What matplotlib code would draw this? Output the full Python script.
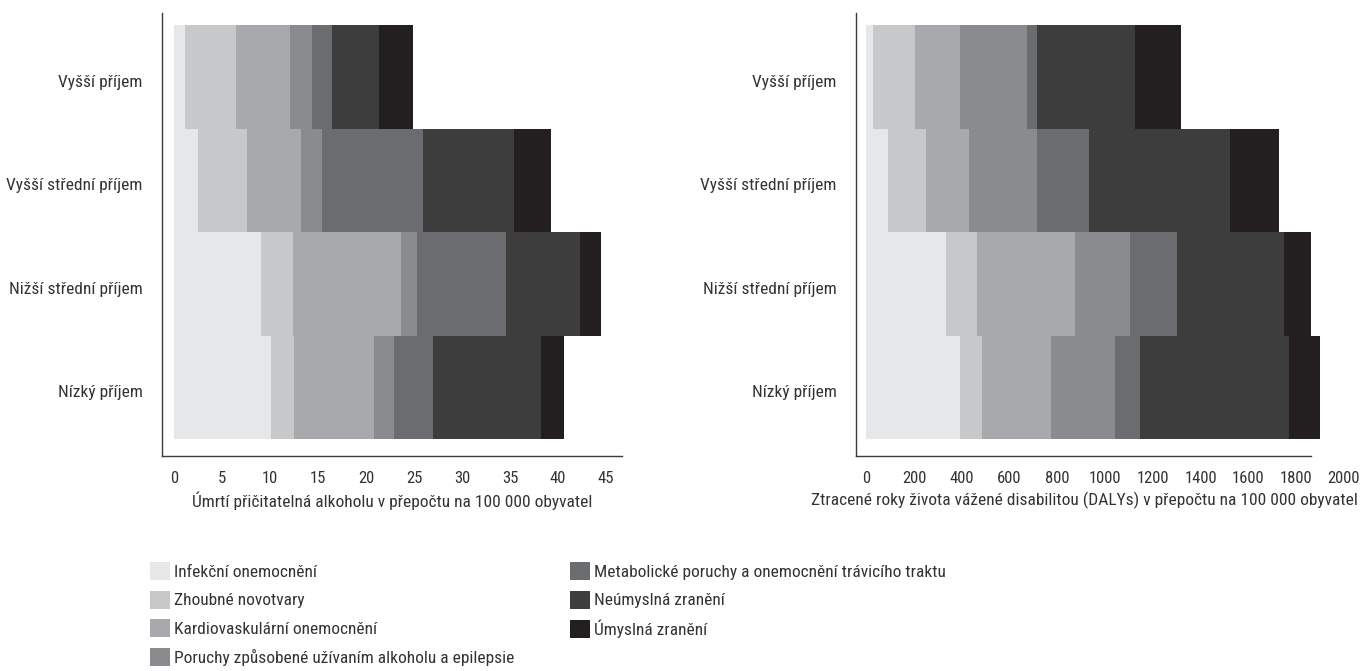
import matplotlib
matplotlib.use('Agg')
import matplotlib.pyplot as plt
from matplotlib.patches import Patch
from matplotlib import font_manager
from matplotlib.transforms import ScaledTranslation

# the reference uses a condensed sans, pick whatever narrow face is installed
installed = {f.name for f in font_manager.fontManager.ttflist}
font_pick = None
for cand in ['Roboto Condensed', 'Liberation Sans Narrow', 'Open Sans Condensed',
             'Noto Sans Condensed', 'DejaVu Sans Condensed', 'Arial Narrow']:
    if cand in installed:
        font_pick = cand
        break
if font_pick is None:
    # condensed faces registered under the regular family name
    for f in font_manager.fontManager.ttflist:
        if f.stretch in ('condensed', 'semi-condensed', 'extra-condensed') and f.style == 'normal' \
                and f.weight in (400, 'normal', 'regular'):
            font_pick = f.name
            plt.rcParams['font.stretch'] = f.stretch
            break
if font_pick is None:
    font_pick = 'Liberation Sans'
plt.rcParams['font.family'] = [font_pick, 'DejaVu Sans']

# categories, top to bottom
categories = ['Vyšší příjem', 'Vyšší střední příjem', 'Nižší střední příjem', 'Nízký příjem']

series_names = ['Infekční onemocnění', 'Zhoubné novotvary', 'Kardiovaskulární onemocnění',
                'Poruchy způsobené užívaním alkoholu a epilepsie',
                'Metabolické poruchy a onemocnění trávicího traktu',
                'Neúmyslná zranění', 'Úmyslná zranění']
colors = ['#e6e7e8', '#c7c8ca', '#a7a9ac', '#8a8b8e', '#6b6c70', '#3d3d3d', '#231f20']

# deaths per 100 000
deaths_infekcni = [1.15, 2.5, 9.05, 10.1]
deaths_zhoubne = [5.3, 5.1, 3.35, 2.4]
deaths_kardio = [5.6, 5.6, 11.25, 8.35]
deaths_poruchy = [2.3, 2.2, 1.65, 2.1]
deaths_metab = [2.1, 10.5, 9.3, 4.05]
deaths_neumyslna = [4.9, 9.5, 7.7, 11.25]
deaths_umyslna = [3.55, 3.85, 2.2, 2.4]

# DALYs per 100 000
dalys_infekcni = [29, 91, 334, 392]
dalys_zhoubne = [177, 161, 132, 91]
dalys_kardio = [186, 177, 408, 289]
dalys_poruchy = [280, 285, 231, 268]
dalys_metab = [45, 219, 194, 107]
dalys_neumyslna = [408, 590, 449, 623]
dalys_umyslna = [194, 206, 115, 128]

deaths = [deaths_infekcni, deaths_zhoubne, deaths_kardio, deaths_poruchy,
          deaths_metab, deaths_neumyslna, deaths_umyslna]
dalys = [dalys_infekcni, dalys_zhoubne, dalys_kardio, dalys_poruchy,
         dalys_metab, dalys_neumyslna, dalys_umyslna]

text_color = '#333333'
spine_color = '#3a3a3a'

fig = plt.figure(figsize=(13.61, 6.71), dpi=100)
ax1 = fig.add_axes([162 / 1361, 1 - 456 / 671, 460 / 1361, 443 / 671])
ax2 = fig.add_axes([856 / 1361, 1 - 456 / 671, 488 / 1361, 443 / 671])


def stacked(ax, data):
    ypos = list(range(len(categories)))
    left = [0] * len(categories)
    for vals, col in zip(data, colors):
        ax.barh(ypos, vals, left=left, height=1.0, color=col, linewidth=0)
        left = [a + b for a, b in zip(left, vals)]
    ax.set_yticks(ypos)
    ax.set_yticklabels(categories)
    ax.set_ylim(3.5 + 0.164, -0.5 - 0.116)
    for s in ['top', 'right']:
        ax.spines[s].set_visible(False)
    for s in ['left', 'bottom']:
        ax.spines[s].set_color(spine_color)
        ax.spines[s].set_linewidth(1.0)
    ax.tick_params(axis='both', length=0, colors=text_color)
    ax.tick_params(axis='y', pad=14, labelsize=12.5)
    ax.tick_params(axis='x', pad=11, labelsize=12)
    # category labels sit a little below the bar centres in the reference
    shift = ScaledTranslation(0, -3 / 72, fig.dpi_scale_trans)
    for lab in ax.get_yticklabels():
        lab.set_transform(lab.get_transform() + shift)


stacked(ax1, deaths)
ax1.set_xlim(-1.25, 46.67)
ax1.set_xticks(range(0, 50, 5))
ax1.set_xlabel('Úmrtí přičitatelná alkoholu v přepočtu na 100 000 obyvatel',
               fontsize=12.5, color=text_color, labelpad=4)

stacked(ax2, dalys)
ax2.set_xlim(-42.5, 2000)
ax2.spines['bottom'].set_bounds(-42.5, 1860)
ax2.set_xticks(range(0, 2200, 200))
ax2.set_xlabel('Ztracené roky života vážené disabilitou (DALYs) v přepočtu na 100 000 obyvatel',
               fontsize=12.5, color=text_color, labelpad=4, loc='right')
ax2.xaxis.label.set_x(1 + 14 / 488)

# legend in two columns placed separately
handles = [Patch(facecolor=c, edgecolor='none') for c in colors]
leg_kw = dict(frameon=False, fontsize=12.5, handlelength=1.15, handleheight=1.2,
              handletextpad=0.25, labelspacing=0.63, borderaxespad=0, borderpad=0,
              labelcolor=text_color)
leg1 = fig.legend(handles[:4], series_names[:4], loc='upper left',
                  bbox_to_anchor=(150 / 1361, 1 - 562 / 671), **leg_kw)
leg2 = fig.legend(handles[4:], series_names[4:], loc='upper left',
                  bbox_to_anchor=(570 / 1361, 1 - 562 / 671), **leg_kw)

fig.savefig('out.png', dpi=100)
